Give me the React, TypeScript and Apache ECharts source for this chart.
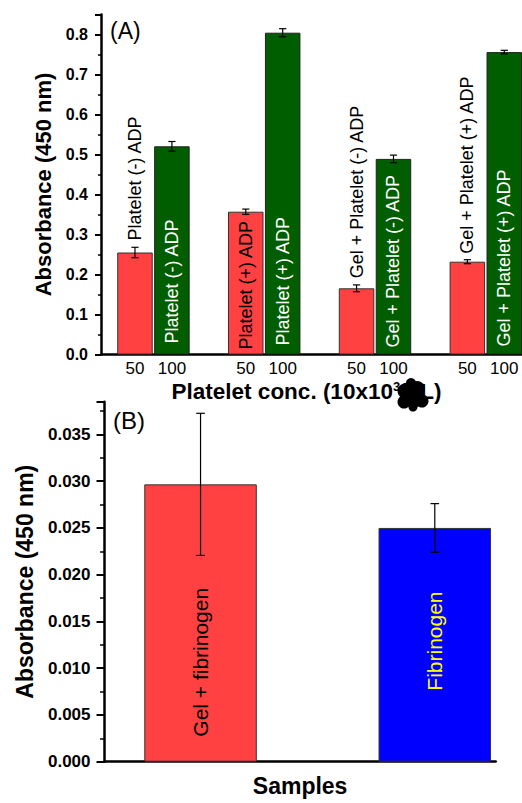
import React, { useEffect, useRef } from "react";
import * as echarts from "echarts";

// ---------- Panel A data ----------
const groupLabels = [
  "Platelet (-) ADP",
  "Platelet (+) ADP",
  "Gel + Platelet (-) ADP",
  "Gel + Platelet (+) ADP",
];
const groupPos = [1, 4, 7, 10]; // x position of the 50 bar, 100 bar sits at +1
const conc50 = [0.255, 0.357, 0.1655, 0.232];
const err50 = [0.013, 0.0065, 0.0085, 0.005];
const conc100 = [0.5205, 0.8045, 0.489, 0.756];
const err100 = [0.012, 0.01, 0.0095, 0.0045];
const xTickPos = [1, 2, 4, 5, 7, 8, 10, 11];
const xTickLabels = ["50", "100", "50", "100", "50", "100", "50", "100"];

// ---------- Panel B data ----------
const samples = ["Gel + fibrinogen", "Fibrinogen"];
const samplePos = [1, 2];
const sampleValues = [0.02966, 0.025];
const sampleErrors = [0.0076, 0.0026];

const FONT = "'Liberation Sans', Arial, Helvetica, sans-serif";
const RED = "#FF4141";
const GREEN = "#005E00";
const BLUE = "#0000FF";

const errRender = (cap: number) => (params: any, api: any) => {
  const x = api.value(0);
  const lo = api.coord([x, api.value(1)]);
  const hi = api.coord([x, api.value(2)]);
  const st = { stroke: "#000", lineWidth: 1.2 };
  return {
    type: "group",
    children: [
      { type: "line", shape: { x1: lo[0], y1: lo[1], x2: hi[0], y2: hi[1] }, style: st },
      { type: "line", shape: { x1: lo[0] - cap, y1: lo[1], x2: lo[0] + cap, y2: lo[1] }, style: st },
      { type: "line", shape: { x1: hi[0] - cap, y1: hi[1], x2: hi[0] + cap, y2: hi[1] }, style: st },
    ],
  };
};

export default function App() {
  const ref = useRef<HTMLDivElement>(null);
  useEffect(() => {
    if (!ref.current) return;
    const chart = echarts.init(ref.current, null, { renderer: "svg" });

    const redLabelPos = ["top", "insideBottom", "top", "top"];
    const redLabelDist = [12, 5, 10, 8];
    const redLabelColor = ["#000", "#000", "#000", "#000"];
    const greenLabelDist = [11, 9, 7, 8];

    const axisLineStyle = { color: "#000", width: 2.5 };

    const option: any = {
      animation: false,
      backgroundColor: "#fff",
      textStyle: { fontFamily: FONT },
      grid: [
        { left: 101, top: 14.5, width: 421, height: 340 },
        { left: 104.5, top: 401.7, width: 391.2, height: 360 },
      ],
      xAxis: [
        {
          type: "value",
          gridIndex: 0,
          min: 0.08,
          max: 11.48,
          splitLine: { show: false },
          axisLine: { show: true, onZero: false, lineStyle: axisLineStyle },
          axisTick: { show: false },
          axisLabel: {
            customValues: xTickPos,
            formatter: (v: number) => {
              const i = xTickPos.findIndex((p) => Math.abs(p - v) < 1e-6);
              return i >= 0 ? xTickLabels[i] : "";
            },
            fontSize: 17,
            color: "#000",
            margin: 5,
            fontFamily: FONT,
          },
          name: "Platelet conc. (10x10{sup|3}/μL)",
          nameLocation: "middle",
          nameGap: 25,
          nameTextStyle: {
            fontSize: 22.5,
            fontWeight: "bold",
            color: "#000",
            fontFamily: FONT,
            padding: [0, 10, 0, 0],
            rich: {
              sup: { fontSize: 13, fontWeight: "bold", verticalAlign: "top", padding: [0, 0, 10, 0], fontFamily: FONT },
            },
          },
        },
        {
          type: "value",
          gridIndex: 1,
          min: 0.59,
          max: 2.26,
          splitLine: { show: false },
          axisLine: { show: true, onZero: false, lineStyle: axisLineStyle },
          axisTick: { show: false },
          axisLabel: { show: false },
          name: "Samples",
          nameLocation: "middle",
          nameGap: 13,
          nameTextStyle: { fontSize: 23, fontWeight: "bold", color: "#000", fontFamily: FONT },
        },
      ],
      yAxis: [
        {
          type: "value",
          gridIndex: 0,
          min: 0,
          max: 0.85,
          interval: 0.1,
          splitLine: { show: false },
          axisLine: { show: true, lineStyle: axisLineStyle },
          axisTick: { show: true, length: 6, lineStyle: { color: "#000", width: 2 } },
          minorTick: { show: true, splitNumber: 2, length: 3, lineStyle: { color: "#000", width: 1.5 } },
          axisLabel: {
            formatter: (v: number) => v.toFixed(1),
            showMaxLabel: false,
            fontSize: 16,
            fontWeight: "bold",
            color: "#000",
            margin: 13,
            fontFamily: FONT,
          },
          name: "Absorbance (450 nm)",
          nameLocation: "middle",
          nameGap: 41,
          nameTextStyle: { fontSize: 22, fontWeight: "bold", color: "#000", fontFamily: FONT },
        },
        {
          type: "value",
          gridIndex: 1,
          min: 0,
          max: 0.0385,
          interval: 0.005,
          splitLine: { show: false },
          axisLine: { show: true, lineStyle: axisLineStyle },
          axisTick: { show: true, length: 8, lineStyle: { color: "#000", width: 2 } },
          minorTick: { show: true, splitNumber: 2, length: 4.5, lineStyle: { color: "#000", width: 1.5 } },
          axisLabel: {
            formatter: (v: number) => v.toFixed(3),
            showMaxLabel: false,
            fontSize: 17,
            fontWeight: "bold",
            color: "#000",
            margin: 14,
            fontFamily: FONT,
          },
          name: "Absorbance (450 nm)",
          nameLocation: "middle",
          nameGap: 68,
          nameTextStyle: { fontSize: 23, fontWeight: "bold", color: "#000", fontFamily: FONT },
        },
      ],
      series: [
        {
          type: "bar",
          name: "50",
          xAxisIndex: 0,
          yAxisIndex: 0,
          barWidth: 35.5,
          barGap: "-100%",
          itemStyle: { color: RED, borderColor: "#333", borderWidth: 1 },
          label: {
            show: true,
            rotate: 90,
            align: "left",
            verticalAlign: "middle",
            fontSize: 18,
            fontFamily: FONT,
            formatter: (p: any) => groupLabels[p.dataIndex],
          },
          data: conc50.map((v, i) => ({
            value: [groupPos[i], v],
            label: { position: redLabelPos[i], distance: redLabelDist[i], color: redLabelColor[i] },
          })),
          z: 2,
        },
        {
          type: "bar",
          name: "100",
          xAxisIndex: 0,
          yAxisIndex: 0,
          barWidth: 35.5,
          barGap: "-100%",
          itemStyle: { color: GREEN, borderColor: "#222", borderWidth: 1 },
          label: {
            show: true,
            rotate: 90,
            align: "left",
            verticalAlign: "middle",
            position: "insideBottom",
            fontSize: 18,
            color: "#fff",
            fontFamily: FONT,
            formatter: (p: any) => groupLabels[p.dataIndex],
          },
          data: conc100.map((v, i) => ({
            value: [groupPos[i] + 1, v],
            label: { distance: greenLabelDist[i] },
          })),
          z: 2,
        },
        {
          type: "custom",
          xAxisIndex: 0,
          yAxisIndex: 0,
          renderItem: errRender(3.6),
          encode: { x: 0, y: [1, 2] },
          data: [
            ...conc50.map((v, i) => [groupPos[i], v - err50[i], v + err50[i]]),
            ...conc100.map((v, i) => [groupPos[i] + 1, v - err100[i], v + err100[i]]),
          ],
          z: 5,
        },
        {
          type: "bar",
          name: "samples",
          xAxisIndex: 1,
          yAxisIndex: 1,
          barWidth: 112.5,
          itemStyle: { borderColor: "#333", borderWidth: 1 },
          label: {
            show: true,
            rotate: 90,
            align: "left",
            verticalAlign: "middle",
            position: "insideBottom",
            fontSize: 21,
            fontFamily: FONT,
            formatter: (p: any) => samples[p.dataIndex],
          },
          data: sampleValues.map((v, i) => ({
            value: [samplePos[i], v],
            itemStyle: { color: i === 0 ? RED : BLUE },
            label: { distance: i === 0 ? 25 : 71, color: i === 0 ? "#000" : "#FFFF00" },
          })),
          z: 2,
        },
        {
          type: "custom",
          xAxisIndex: 1,
          yAxisIndex: 1,
          renderItem: errRender(4.3),
          encode: { x: 0, y: [1, 2] },
          data: sampleValues.map((v, i) => [samplePos[i], v - sampleErrors[i], v + sampleErrors[i]]),
          z: 5,
        },
      ],
      graphic: [
        {
          type: "text",
          left: 110,
          top: 19,
          style: { text: "(A)", fontSize: 23, fontFamily: FONT, fill: "#000" },
        },
        {
          type: "text",
          left: 113,
          top: 408,
          style: { text: "(B)", fontSize: 24, fontFamily: FONT, fill: "#000" },
        },
        {
          type: "group",
          z: 100,
          children: [
            { type: "circle", shape: { cx: 405, cy: 391, r: 7.5 }, style: { fill: "#000" } },
            { type: "circle", shape: { cx: 417, cy: 389, r: 8 }, style: { fill: "#000" } },
            { type: "circle", shape: { cx: 413, cy: 398, r: 10 }, style: { fill: "#000" } },
            { type: "circle", shape: { cx: 404, cy: 402, r: 6.5 }, style: { fill: "#000" } },
            { type: "circle", shape: { cx: 422, cy: 401, r: 6.5 }, style: { fill: "#000" } },
            { type: "circle", shape: { cx: 411, cy: 383, r: 5 }, style: { fill: "#000" } },
            { type: "circle", shape: { cx: 413, cy: 407, r: 4.5 }, style: { fill: "#000" } },
          ],
        },
      ],
    };
    chart.setOption(option);
    return () => chart.dispose();
  }, []);
  return (
    <div
      ref={ref}
      style={{ position: "fixed", left: 0, top: 0, width: 522, height: 803, background: "#fff" }}
    />
  );
}
